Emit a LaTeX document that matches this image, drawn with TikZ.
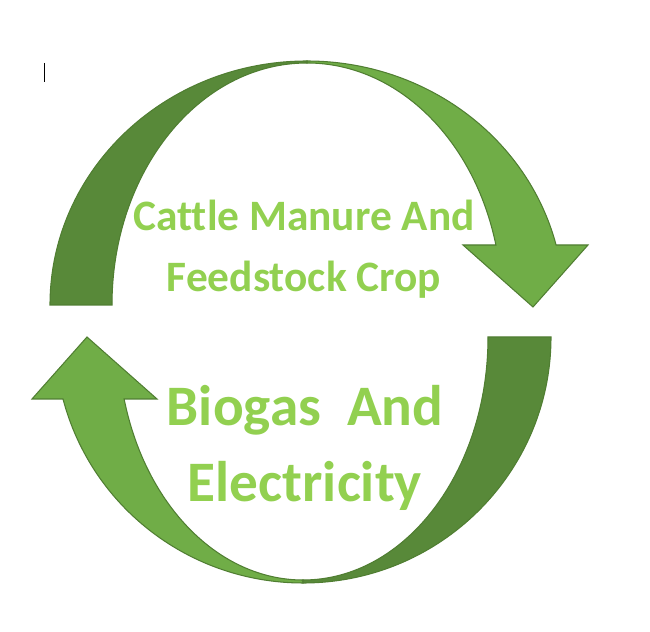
\documentclass[tikz,border=0pt]{standalone}
\usepackage{fontspec}
\setmainfont{Carlito}[Ligatures=NoCommon]
\definecolor{leafdark}{RGB}{88,137,57}
\definecolor{leaflight}{RGB}{112,173,71}
\definecolor{leafedge}{RGB}{80,126,50}
\definecolor{labelgreen}{RGB}{146,208,80}
\usetikzlibrary{calc}

\begin{document}
\begin{tikzpicture}[x=0.02cm, y=0.02cm,
  darkband/.style={fill=leafdark, draw=leafedge, line width=0.6pt},
  lightband/.style={fill=leaflight, draw=leafedge, line width=0.6pt},
  cycletext/.style={text=labelgreen, align=center, inner sep=0pt}
]
  \useasboundingbox (0,0) rectangle (650,632);
  % upper arrow
  \draw[lightband] (307,571) arc[start angle=90, end angle={asin(60/244)}, x radius=257, y radius=244]
    -- (588,387) -- (533,325) -- (463,387) -- ({307+195*cos(asin(60/242))},387)
    arc[start angle={asin(60/242)}, end angle=90, x radius=195, y radius=242] -- cycle;
  \draw[darkband] (50,327) arc[start angle=180, end angle=90, x radius=257, y radius=244]
    -- (307,569) arc[start angle=90, end angle=180, x radius=195, y radius=242] -- cycle;
  % lower arrow
  \draw[lightband] (303,49) arc[start angle=270, end angle={180+asin(62/246)}, x radius=248, y radius=246]
    -- (32,233) -- (87,295) -- (157,233) -- ({303-185*cos(asin(62/243))},233)
    arc[start angle={180+asin(62/243)}, end angle=270, x radius=185, y radius=243] -- cycle;
  \draw[darkband] (551,295) arc[start angle=0, end angle=-90, x radius=248, y radius=246]
    -- (303,52) arc[start angle=-90, end angle=0, x radius=185, y radius=243] -- cycle;
  % cursor mark
  \draw[black, line width=0.5pt] (44,569) -- (44,550);
  \node[cycletext, font=\bfseries\fontsize{24.7}{35}\selectfont] (feed) at (304,383) {Cattle Manure And\\Feedstock Crop};
  \node[cycletext, font=\bfseries\fontsize{32.6}{43}\selectfont] (biogas) at (305,184) {Biogas~ And\\Electricity};
\end{tikzpicture}
\end{document}
